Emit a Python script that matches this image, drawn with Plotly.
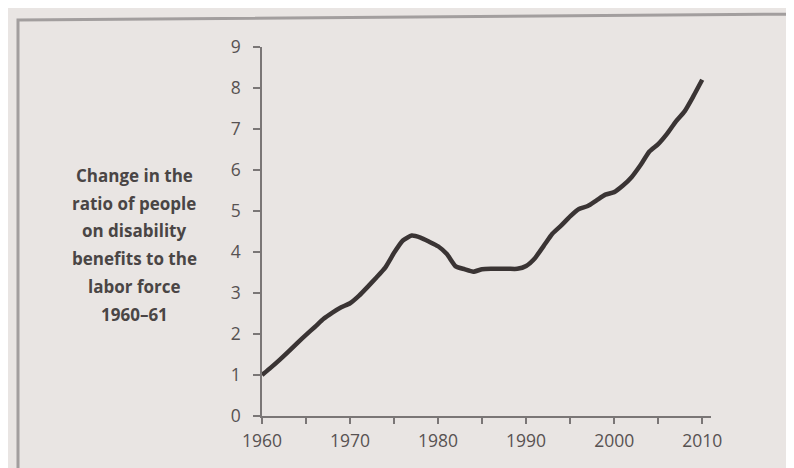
import plotly.graph_objects as go

years = list(range(1960, 2011))
ratio = [1.00, 1.18, 1.37, 1.57, 1.78, 1.98, 2.17, 2.37, 2.52, 2.65,
         2.75, 2.93, 3.15, 3.38, 3.62, 3.98, 4.28, 4.40, 4.35, 4.25,
         4.14, 3.95, 3.65, 3.58, 3.52, 3.58, 3.59, 3.59, 3.59, 3.59,
         3.66, 3.85, 4.15, 4.45, 4.65, 4.87, 5.05, 5.12, 5.26, 5.40,
         5.46, 5.62, 5.83, 6.12, 6.45, 6.63, 6.88, 7.18, 7.43, 7.80,
         8.20]

label_lines = ["Change in the", "ratio of people", "on disability",
               "benefits to the", "labor force", "1960\u201361"]
x_ticks = [1960, 1970, 1980, 1990, 2000, 2010]
y_ticks = list(range(0, 10))

W, H = 794, 468
L, R, T, B = 254, 91, 39, 60
pw, ph = W - L - R, H - T - B

def px(x):
    return (x - L) / pw

def py(y):
    return (H - B - y) / ph

bg = "#e9e5e3"
axis_col = "#7a7676"
text_col = "#4a4545"
tick_col = "#575252"

fig = go.Figure()
fig.add_trace(go.Scatter(
    x=years, y=ratio, mode="lines",
    line=dict(color="#3a3434", width=4.5, shape="spline", smoothing=0.5),
    hoverinfo="skip", showlegend=False))

fig.update_layout(
    width=W, height=H, autosize=False,
    margin=dict(l=L, r=R, t=T, b=B, pad=0),
    paper_bgcolor=bg, plot_bgcolor=bg,
    font=dict(family="Open Sans", size=16, color=tick_col),
    showlegend=False,
)

fig.update_xaxes(
    range=[1960, 2011], tickvals=x_ticks, ticktext=[str(v) for v in x_ticks],
    showgrid=False, zeroline=False, showline=True, linecolor=axis_col, linewidth=1.5,
    ticks="outside", ticklen=6, tickwidth=1.5, tickcolor=axis_col,
    minor=dict(tickvals=[1965, 1975, 1985, 1995, 2005], ticks="outside", ticklen=6,
               tickwidth=1.5, tickcolor=axis_col, showgrid=False),
    ticklabelstandoff=2,
    tickfont=dict(family="Open Sans", size=17.5, color=tick_col),
)
fig.update_yaxes(
    range=[0, 9], tickvals=y_ticks,
    showgrid=False, zeroline=False, showline=True, linecolor=axis_col, linewidth=1.5,
    ticks="outside", ticklen=7, tickwidth=1.5, tickcolor=axis_col,
    ticklabelstandoff=9,
    tickfont=dict(family="Open Sans", size=17.5, color=tick_col),
)

line_ys = [167, 195, 222, 250, 278, 306]
for txt, yy in zip(label_lines, line_ys):
    fig.add_annotation(
        xref="paper", yref="paper", x=px(126), y=py(yy),
        xanchor="center", yanchor="middle", showarrow=False,
        text="<b>" + txt + "</b>",
        font=dict(family="Open Sans", size=17, color=text_col))

# photographed page frame
fig.add_shape(
    type="path", xref="paper", yref="paper",
    path=f"M {px(800)} {py(6)} L {px(10)} {py(12)} L {px(10)} {py(463)} L {px(800)} {py(463)}",
    line=dict(color="#a29e9e", width=3))

fig.write_html("out.html")
